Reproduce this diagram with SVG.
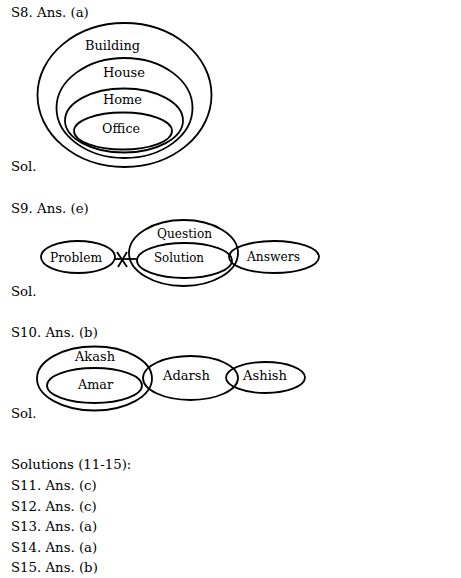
<svg xmlns="http://www.w3.org/2000/svg" width="461" height="578" viewBox="0 0 461 578">
<style>
text{font-family:"DejaVu Serif","Liberation Serif",serif;font-size:13.3px;fill:#000}
.lbl{text-anchor:middle}
ellipse{fill:none;stroke:#000;stroke-width:1.8}
.con line{stroke:#000;stroke-width:1.8}
</style>
<rect width="461" height="578" fill="#fff"/>
<g id="headings">
<text x="11" y="16.5">S8. Ans. (a)</text>
<text x="11" y="171">Sol.</text>
<text x="11" y="213">S9. Ans. (e)</text>
<text x="11" y="296">Sol.</text>
<text x="11" y="336.5">S10. Ans. (b)</text>
<text x="11" y="418">Sol.</text>
<text x="11" y="469">Solutions (11-15):</text>
<text x="11" y="490">S11. Ans. (c)</text>
<text x="11" y="510.5">S12. Ans. (c)</text>
<text x="11" y="531">S13. Ans. (a)</text>
<text x="11" y="551.5">S14. Ans. (a)</text>
<text x="11" y="572">S15. Ans. (b)</text>
</g>
<g id="building"><ellipse cx="124.5" cy="95" rx="87" ry="72"/><text class="lbl" x="112.5" y="50" textLength="55" lengthAdjust="spacingAndGlyphs">Building</text></g>
<g id="house"><ellipse cx="124.5" cy="108" rx="68" ry="50"/><text class="lbl" x="124" y="77" textLength="42" lengthAdjust="spacingAndGlyphs">House</text></g>
<g id="home"><ellipse cx="124" cy="120.5" rx="59" ry="32"/><text class="lbl" x="122.5" y="104" textLength="39" lengthAdjust="spacingAndGlyphs">Home</text></g>
<g id="office"><ellipse cx="123" cy="131" rx="49" ry="18.5"/><text class="lbl" x="121" y="133" textLength="38" lengthAdjust="spacingAndGlyphs">Office</text></g>
<g id="problem"><ellipse cx="78" cy="257" rx="37" ry="16"/><text class="lbl" x="76" y="262" textLength="52" lengthAdjust="spacingAndGlyphs">Problem</text></g>
<g id="question"><ellipse cx="183.5" cy="253" rx="54.5" ry="33"/><text class="lbl" x="184.5" y="238" textLength="55" lengthAdjust="spacingAndGlyphs">Question</text></g>
<g id="solution"><ellipse cx="184.5" cy="260.5" rx="47.5" ry="17.5"/><text class="lbl" x="179" y="262" textLength="50" lengthAdjust="spacingAndGlyphs">Solution</text></g>
<g id="answers"><ellipse cx="274" cy="257" rx="45" ry="16"/><text class="lbl" x="273.5" y="261" textLength="53" lengthAdjust="spacingAndGlyphs">Answers</text></g>
<g id="connectors" class="con">
<line x1="115" y1="259" x2="138" y2="259"/>
<line x1="117" y1="252" x2="127" y2="267"/>
<line x1="127" y1="252" x2="118" y2="267"/>
</g>
<g id="akash"><ellipse cx="94.5" cy="378.5" rx="57.5" ry="32"/><text class="lbl" x="95" y="361" textLength="40" lengthAdjust="spacingAndGlyphs">Akash</text></g>
<g id="amar"><ellipse cx="94.5" cy="385.5" rx="47.5" ry="17.5"/><text class="lbl" x="95.5" y="389" textLength="35" lengthAdjust="spacingAndGlyphs">Amar</text></g>
<g id="adarsh"><ellipse cx="190.5" cy="378" rx="47.5" ry="22"/><text class="lbl" x="186.5" y="380" textLength="47" lengthAdjust="spacingAndGlyphs">Adarsh</text></g>
<g id="ashish"><ellipse cx="265.5" cy="377.5" rx="39.5" ry="15.5"/><text class="lbl" x="265" y="380" textLength="44" lengthAdjust="spacingAndGlyphs">Ashish</text></g>
</svg>
